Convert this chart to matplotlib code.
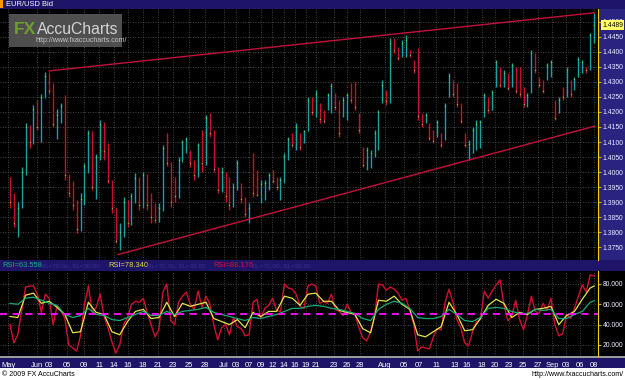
import numpy as np
import matplotlib
matplotlib.use("Agg")
import matplotlib.pyplot as plt
from matplotlib.patches import Rectangle
import matplotlib.transforms as mtransforms

plt.rcParams['font.family'] = ['Liberation Sans', 'DejaVu Sans']

# ---------------- data ----------------
symbol = "EUR/USD Bid"
rsi_labels = ["RSI=63.558", "RSI=78.340", "RSI=88.176"]
band_label = "BL=70.00, SL=30.00"

opens = [1.3960, 1.3900, 1.3830, 1.3880, 1.4000, 1.4150, 1.4100, 1.4210, 1.4150, 1.4250,
         1.4320, 1.4270, 1.4160, 1.4190, 1.4220, 1.3990, 1.3930, 1.3890, 1.3810, 1.3910,
         1.4020, 1.4130, 1.3950, 1.4050, 1.4160, 1.4070, 1.3970, 1.3880, 1.3770, 1.3800,
         1.3900, 1.3830, 1.3920, 1.3980, 1.3890, 1.3990, 1.3890, 1.3850, 1.3840, 1.3880,
         1.4110, 1.4030, 1.3960, 1.3920, 1.4040, 1.4070, 1.4070, 1.4030, 1.3990, 1.4120,
         1.4030, 1.4190, 1.4130, 1.4010, 1.3940, 1.3990, 1.3960, 1.3890, 1.3950, 1.3960,
         1.3910, 1.3850, 1.4050, 1.3990, 1.3910, 1.3920, 1.3950, 1.3995, 1.3975, 1.3920,
         1.3975, 1.4055, 1.4120, 1.4090, 1.4125, 1.4100, 1.4140, 1.4240, 1.4200, 1.4225,
         1.4200, 1.4210, 1.4210, 1.4255, 1.4230, 1.4190, 1.4190, 1.4290, 1.4290, 1.4190,
         1.4080, 1.4025, 1.4030, 1.4065, 1.4090, 1.4240, 1.4265, 1.4235, 1.4440, 1.4410,
         1.4390, 1.4390, 1.4400, 1.4365, 1.4400, 1.4190, 1.4165, 1.4155, 1.4130, 1.4120,
         1.4125, 1.4110, 1.4255, 1.4300, 1.4290, 1.4225, 1.4125, 1.4050, 1.4070, 1.4085,
         1.4090, 1.4190, 1.4245, 1.4215, 1.4290, 1.4340, 1.4290, 1.4325, 1.4290, 1.4340,
         1.4345, 1.4275, 1.4225, 1.4265, 1.4390, 1.4310, 1.4300, 1.4310, 1.4320, 1.4235,
         1.4200, 1.4280, 1.4260, 1.4300, 1.4280, 1.4320, 1.4335, 1.4348, 1.4345, 1.4440]
highs = [1.3983, 1.3930, 1.3900, 1.4017, 1.4163, 1.4155, 1.4223, 1.4240, 1.4260, 1.4333,
         1.4330, 1.4297, 1.4210, 1.4230, 1.4257, 1.3995, 1.3970, 1.3907, 1.3930, 1.4030,
         1.4140, 1.4135, 1.4060, 1.4173, 1.4165, 1.4097, 1.3973, 1.3885, 1.3830, 1.3917,
         1.3907, 1.3930, 1.3997, 1.3985, 1.4000, 1.3995, 1.3930, 1.3897, 1.3897, 1.4090,
         1.4130, 1.4035, 1.3983, 1.4050, 1.4107, 1.4117, 1.4073, 1.4040, 1.4097, 1.4140,
         1.4190, 1.4197, 1.4140, 1.4017, 1.4017, 1.4000, 1.3983, 1.3963, 1.4040, 1.3963,
         1.3917, 1.3897, 1.4063, 1.4007, 1.3973, 1.3973, 1.3997, 1.4007, 1.3983, 1.3983,
         1.4063, 1.4117, 1.4130, 1.4163, 1.4130, 1.4140, 1.4250, 1.4250, 1.4273, 1.4230,
         1.4207, 1.4263, 1.4297, 1.4263, 1.4240, 1.4250, 1.4263, 1.4297, 1.4300, 1.4197,
         1.4083, 1.4083, 1.4073, 1.4140, 1.4207, 1.4307, 1.4273, 1.4447, 1.4447, 1.4417,
         1.4440, 1.4457, 1.4407, 1.4373, 1.4413, 1.4197, 1.4197, 1.4163, 1.4140, 1.4173,
         1.4130, 1.4230, 1.4330, 1.4307, 1.4297, 1.4230, 1.4130, 1.4107, 1.4150, 1.4173,
         1.4173, 1.4263, 1.4250, 1.4273, 1.4373, 1.4350, 1.4340, 1.4330, 1.4363, 1.4350,
         1.4350, 1.4283, 1.4263, 1.4407, 1.4397, 1.4317, 1.4307, 1.4363, 1.4373, 1.4240,
         1.4250, 1.4283, 1.4350, 1.4307, 1.4317, 1.4383, 1.4373, 1.4350, 1.4463, 1.4530]
lows = [1.3880, 1.3817, 1.3783, 1.3880, 1.3990, 1.4080, 1.4095, 1.4140, 1.4100, 1.4245,
        1.4260, 1.4150, 1.4110, 1.4163, 1.3973, 1.3917, 1.3873, 1.3797, 1.3805, 1.3890,
        1.3997, 1.3940, 1.3910, 1.4040, 1.4040, 1.3963, 1.3863, 1.3763, 1.3740, 1.3783,
        1.3817, 1.3825, 1.3897, 1.3873, 1.3880, 1.3873, 1.3830, 1.3830, 1.3835, 1.3870,
        1.4020, 1.3883, 1.3900, 1.3915, 1.4035, 1.4063, 1.4017, 1.3973, 1.3985, 1.4000,
        1.4025, 1.4117, 1.4000, 1.3930, 1.3935, 1.3900, 1.3873, 1.3885, 1.3940, 1.3897,
        1.3850, 1.3830, 1.3917, 1.3920, 1.3897, 1.3907, 1.3940, 1.3963, 1.3940, 1.3907,
        1.3963, 1.4040, 1.4083, 1.4073, 1.4073, 1.4097, 1.4135, 1.4190, 1.4183, 1.4163,
        1.4163, 1.4207, 1.4197, 1.4207, 1.4117, 1.4183, 1.4173, 1.4230, 1.4207, 1.4130,
        1.4017, 1.4007, 1.4013, 1.4050, 1.4073, 1.4230, 1.4223, 1.4230, 1.4397, 1.4373,
        1.4383, 1.4383, 1.4383, 1.4330, 1.4173, 1.4150, 1.4163, 1.4107, 1.4097, 1.4117,
        1.4083, 1.4107, 1.4250, 1.4250, 1.4217, 1.4163, 1.4083, 1.4040, 1.4063, 1.4073,
        1.4080, 1.4183, 1.4197, 1.4207, 1.4283, 1.4283, 1.4283, 1.4273, 1.4283, 1.4263,
        1.4250, 1.4217, 1.4217, 1.4263, 1.4330, 1.4283, 1.4263, 1.4307, 1.4317, 1.4173,
        1.4197, 1.4240, 1.4250, 1.4250, 1.4273, 1.4317, 1.4330, 1.4330, 1.4340, 1.4430]
closes = [1.3900, 1.3830, 1.3880, 1.4000, 1.4150, 1.4100, 1.4210, 1.4150, 1.4250, 1.4320,
          1.4270, 1.4160, 1.4190, 1.4220, 1.3990, 1.3930, 1.3890, 1.3810, 1.3910, 1.4020,
          1.4130, 1.3950, 1.4050, 1.4160, 1.4070, 1.3970, 1.3880, 1.3770, 1.3800, 1.3900,
          1.3830, 1.3920, 1.3980, 1.3890, 1.3990, 1.3890, 1.3850, 1.3840, 1.3880, 1.4080,
          1.4030, 1.3900, 1.3920, 1.4040, 1.4100, 1.4110, 1.4030, 1.3990, 1.4090, 1.4030,
          1.4180, 1.4130, 1.4010, 1.3940, 1.4000, 1.3920, 1.3890, 1.3950, 1.4030, 1.3910,
          1.3860, 1.3880, 1.3930, 1.3925, 1.3960, 1.3965, 1.3990, 1.3970, 1.3950, 1.3975,
          1.4055, 1.4110, 1.4090, 1.4150, 1.4085, 1.4135, 1.4240, 1.4200, 1.4260, 1.4175,
          1.4170, 1.4255, 1.4285, 1.4215, 1.4130, 1.4240, 1.4255, 1.4240, 1.4215, 1.4140,
          1.4025, 1.4075, 1.4065, 1.4130, 1.4200, 1.4290, 1.4235, 1.4430, 1.4405, 1.4380,
          1.4430, 1.4440, 1.4390, 1.4340, 1.4185, 1.4160, 1.4190, 1.4115, 1.4105, 1.4165,
          1.4090, 1.4220, 1.4320, 1.4260, 1.4225, 1.4170, 1.4090, 1.4095, 1.4140, 1.4160,
          1.4165, 1.4255, 1.4205, 1.4265, 1.4365, 1.4290, 1.4330, 1.4280, 1.4355, 1.4270,
          1.4260, 1.4225, 1.4255, 1.4395, 1.4340, 1.4290, 1.4270, 1.4355, 1.4365, 1.4180,
          1.4240, 1.4250, 1.4340, 1.4260, 1.4310, 1.4375, 1.4365, 1.4340, 1.4455, 1.4489]

rsi_red = [40, 22, 30, 54, 77, 78, 78, 70, 52, 70,
           66, 40, 58, 54, 46, 20, 17, 14, 29, 60,
           78, 52, 57, 70, 48, 37, 23, 12, 20, 40,
           47, 60, 63, 62, 66, 52, 40, 28, 35, 72,
           80, 44, 40, 62, 68, 72, 60, 55, 73, 57,
           68, 60, 40, 25, 37, 40, 30, 47, 38, 36,
           29, 30, 62, 65, 46, 56, 59, 66, 54, 53,
           80, 76, 75, 70, 58, 56, 78, 80, 78, 61,
           63, 61, 70, 55, 53, 49, 60, 52, 50, 37,
           27, 24, 33, 48, 80, 79, 74, 77, 75, 71,
           64, 66, 54, 40, 14, 18, 17, 16, 28, 36,
           35, 62, 75, 62, 45, 37, 22, 19, 33, 43,
           45, 73, 66, 73, 79, 84, 60, 44, 48, 64,
           45, 35, 50, 68, 53, 51, 61, 54, 66, 40,
           29, 31, 50, 46, 56, 68, 79, 72, 89, 88]
rsi_yellow = [48, 47, 69, 71, 61, 63, 57, 50, 32, 33,
              62, 52, 50, 33, 30, 43, 53, 55, 46, 47,
              62, 48, 61, 58, 60, 62, 46, 43, 40, 45,
              37, 52, 48, 53, 53, 68, 66, 59, 70, 71,
              63, 63, 54, 52, 50, 36, 32, 64, 63, 68,
              60, 55, 30, 28, 33, 38, 62, 50, 34, 35,
              46, 59, 65, 61, 47, 52, 50, 55, 56, 58,
              40, 49, 53, 65, 76, 78]
rsi_green = [61, 60, 66, 67, 64, 61, 59, 50, 47, 49,
             56, 50, 49, 45, 44, 47, 50, 53, 49, 49,
             53, 50, 53, 54, 55, 57, 52, 50, 48, 46,
             44, 47, 46, 48, 50, 53, 56, 56, 58, 59,
             58, 56, 55, 53, 51, 46, 44, 55, 60, 63,
             61, 56, 47, 46, 46, 48, 55, 50, 44, 43,
             47, 56, 57, 56, 53, 51, 51, 55, 54, 55,
             46, 46, 50, 53, 62, 63.5]

upper_trend_bars = [10.0, 149.2]
upper_trend = [1.4337, 1.4531]
lower_trend_bars = [27.6, 149.2]
lower_trend = [1.3725, 1.4153]

date_labels = ['May', 'Jun', '03', '05', '09', '11', '14', '16', '18', '21', '23', '25', '28',
               'Jul', '03', '07', '09', '12', '14', '16', '19', '21', '23', '26', '28',
               'Aug', '05', '07', '11', '13', '16', '18', '20', '23', '25', '27',
               'Sep', '03', '06', '08']
date_ticks = [-0.4, 6.9, 10.0, 14.6, 18.9, 22.7, 26.5, 30.1, 33.9, 37.8, 41.6, 45.7, 49.8,
              54.6, 57.7, 61.0, 64.0, 66.9, 69.9, 72.7, 75.5, 78.1, 82.7, 86.0, 89.3,
              95.7, 100.5, 104.3, 108.7, 113.3, 116.6, 120.4, 123.7, 127.3, 130.9, 134.7,
              138.3, 141.9, 145.4, 149.0]

price_ticks = [1.3750, 1.3800, 1.3850, 1.3900, 1.3950, 1.4000, 1.4050, 1.4100,
               1.4150, 1.4200, 1.4250, 1.4300, 1.4350, 1.4400, 1.4450, 1.4500]
rsi_ticks = [20, 40, 60, 80]

# ---------------- figure ----------------
W, H = 625, 380
fig = plt.figure(figsize=(W / 100, H / 100), dpi=100)
fig.patch.set_facecolor('white')

INDIGO = '#1e1468'
UP = '#17a3a0'
DOWN = '#c8102e'
FS = 5.4
FSR = 4.9


def rect(x0, y0, x1, y1, color, z=-1, alpha=1.0):
    fig.add_artist(Rectangle((x0 / W, 1 - y1 / H), (x1 - x0) / W, (y1 - y0) / H,
                             transform=fig.transFigure, facecolor=color,
                             edgecolor='none', zorder=z, alpha=alpha))


def ax_px(x0, y0, x1, y1):
    return fig.add_axes([x0 / W, 1 - y1 / H, (x1 - x0) / W, (y1 - y0) / H])


# background strips
rect(0, 0, 625, 9, INDIGO)
rect(0, 0, 3, 8, '#ff9900', z=5)
rect(598, 9, 625, 260, '#2a2480')
rect(0, 260, 625, 271, INDIGO)
rect(598, 271, 625, 357, '#000000')
rect(0, 356, 625, 358, '#9a9a9a')
rect(0, 358, 625, 368, INDIGO)

XMIN, XMAX = -2.54, 150.0

# ---------------- main price panel ----------------
ax = ax_px(0, 9, 598, 260)
ax.set_facecolor('black')
ax.set_xlim(XMIN, XMAX)
ax.set_ylim(1.370667, 1.454333)

x = np.arange(len(closes))
o = np.array(opens); h = np.array(highs); l = np.array(lows); c = np.array(closes)
cols = np.where(c >= o, UP, DOWN)
ax.vlines(x, l, h, colors=cols, lw=1.0, zorder=3)
ax.plot(x, c, ls='none', marker='s', ms=0.9, mew=0, color='#7fdc3a', zorder=4, alpha=0.8)

ax.plot(upper_trend_bars, upper_trend, color='#c4103a', lw=1.0, zorder=5)
ax.plot(lower_trend_bars, lower_trend, color='#c4103a', lw=1.0, zorder=5)

ax.set_yticks(price_ticks)
ax.set_yticklabels([f"{p:.4f}" for p in price_ticks])
ax.yaxis.tick_right()
ax.tick_params(axis='y', colors='#f0d000', length=2, width=0.6, labelsize=FSR,
               labelcolor='#ececff', pad=1.2)
ax.set_xticks(date_ticks)
ax.tick_params(axis='x', length=0, labelbottom=False)
ax.grid(True, color='#5a5a5a', lw=0.6, ls=(0, (1, 2)))
ax.set_axisbelow(True)
for s in ['top', 'left', 'bottom']:
    ax.spines[s].set_visible(False)
ax.spines['right'].set_color('#f0d000')
ax.spines['right'].set_linewidth(0.8)

trans = mtransforms.blended_transform_factory(ax.transAxes, ax.transData)
ax.text(1.0 + 4 / 598, closes[-1], f"{closes[-1]:.4f}", transform=trans, ha='left',
        va='center', fontsize=FSR, color='black', zorder=10, clip_on=False,
        bbox=dict(boxstyle='square,pad=0.2', fc='#ffff66', ec='none'))

# watermark logo
rect(9, 14, 122, 47, '#555555', z=6, alpha=0.92)
fig.text(14 / W, 1 - 29 / H, 'FX', fontsize=12.5, fontweight='bold', color='#6f9e2c',
         va='center', ha='left', zorder=7)
fig.text(37 / W, 1 - 29 / H, 'AccuCharts', fontsize=11.3, color='#d4d4d4',
         va='center', ha='left', zorder=7)
fig.text(35 / W, 1 - 40 / H, 'http://www.fxaccucharts.com/', fontsize=5, color='#c8c8c8',
         va='center', ha='left', zorder=7)

fig.text(6 / W, 1 - 4.5 / H, symbol, fontsize=FS, color='white', va='center', ha='left')

# ---------------- RSI panel ----------------
ax2 = ax_px(0, 271, 598, 356)
ax2.set_facecolor('black')
ax2.set_xlim(XMIN, XMAX)
ax2.set_ylim(9.1, 92.8)
xs = list(range(0, 150, 2)) + [149]
ax2.plot(x, rsi_red, color='#d0102c', lw=1.0, zorder=3)
ax2.plot(xs, rsi_yellow, color='#e4e44a', lw=0.9, zorder=4)
ax2.plot(xs, rsi_green, color='#12aa78', lw=0.9, zorder=5)
ax2.axhline(50, color='#ff10ff', lw=1.3, ls=(0, (4, 3)), zorder=6)

ax2.set_yticks(rsi_ticks)
ax2.set_yticklabels([f"{v:.3f}" for v in rsi_ticks])
ax2.yaxis.tick_right()
ax2.tick_params(axis='y', colors='#f0d000', length=2, width=0.6, labelsize=FSR,
                labelcolor='#ececff', pad=1.2)
ax2.set_xticks(date_ticks)
ax2.set_xticklabels(date_labels)
ax2.tick_params(axis='x', length=0, labelsize=FS, labelcolor='white', pad=4.5)
ax2.grid(True, color='#5a5a5a', lw=0.6, ls=(0, (1, 2)))
ax2.set_axisbelow(True)
for s in ['top', 'left', 'bottom']:
    ax2.spines[s].set_visible(False)
ax2.spines['right'].set_color('#f0d000')
ax2.spines['right'].set_linewidth(0.8)

# RSI header
yh = 1 - 265.5 / H
fig.text(2 / W, yh, rsi_labels[0], fontsize=FS, color='#19b37a', va='center')
fig.text(41 / W, yh, band_label, fontsize=4.6, color='#3d2f92', va='center')
fig.text(108 / W, yh, rsi_labels[1], fontsize=FS, color='#dede44', va='center')
fig.text(147 / W, yh, band_label, fontsize=4.6, color='#3d2f92', va='center')
fig.text(213 / W, yh, rsi_labels[2], fontsize=FS, color='#e0102e', va='center')
fig.text(252 / W, yh, band_label, fontsize=4.6, color='#3d2f92', va='center')

# footer
fig.text(2 / W, 1 - 374 / H, '\u00a9 2009 FX AccuCharts', fontsize=5.1, color='black',
         va='center', ha='left')
fig.text(624 / W, 1 - 375 / H, 'http://www.fxaccucharts.com/', fontsize=5.1, color='black',
         va='center', ha='right')

fig.savefig('out.png', dpi=100, facecolor=fig.get_facecolor())
